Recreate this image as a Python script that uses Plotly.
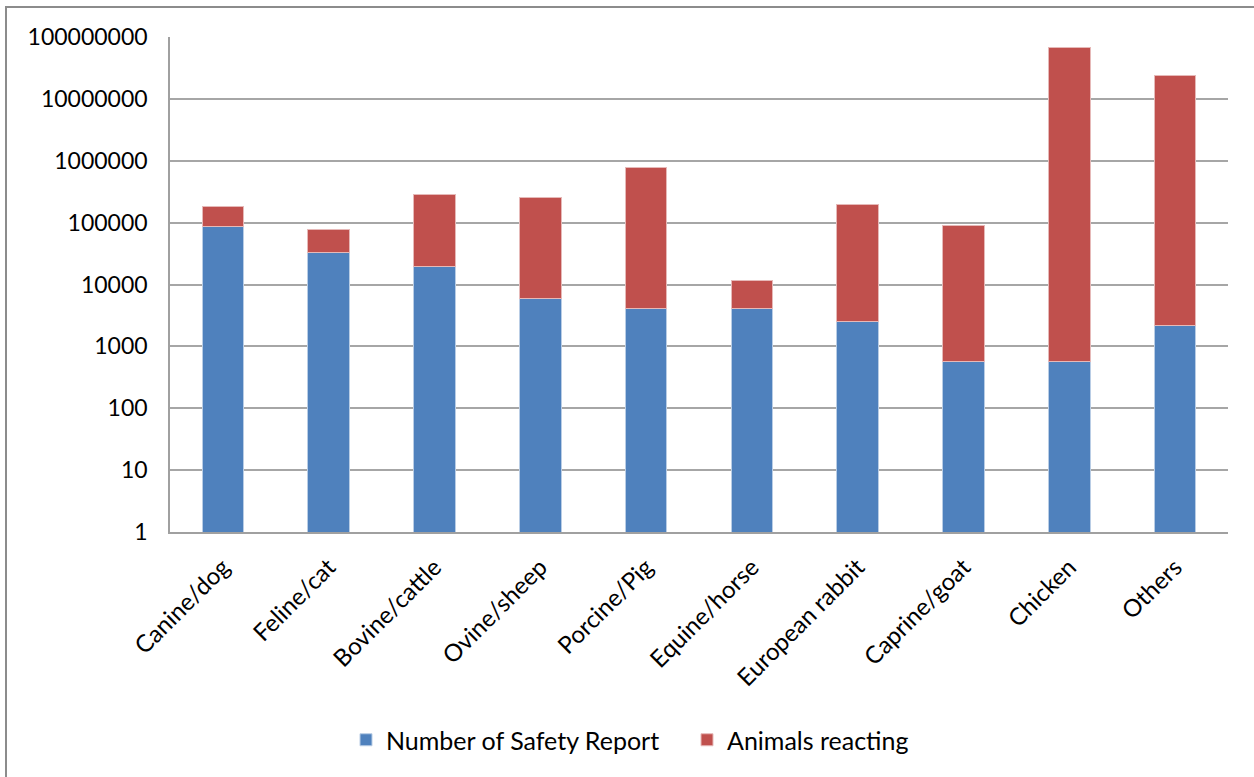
import plotly.graph_objects as go

categories = ["Canine/dog", "Feline/cat", "Bovine/cattle", "Ovine/sheep", "Porcine/Pig",
              "Equine/horse", "European rabbit", "Caprine/goat", "Chicken", "Others"]
safety_reports = [85500, 33000, 19600, 5960, 4050, 4050, 2500, 572, 572, 2180]
animals_reacting = [97300, 44600, 266000, 249000, 776000, 7600, 191500, 89500, 68400000, 23900000]
y_tick_values = [1, 10, 100, 1000, 10000, 100000, 1000000, 10000000, 100000000]
y_tick_labels = ["1", "10", "100", "1000", "10000", "100000", "1000000", "10000000", "100000000"]

FONT = "Lato"
W, H = 1254, 777
L, R, T, B = 170, 26, 37, 245

fig = go.Figure()
fig.add_trace(go.Bar(x=categories, y=safety_reports, name="Number of Safety Report",
                     marker=dict(color="#4f81bd", line=dict(color="#b9cde5", width=1))))
fig.add_trace(go.Bar(x=categories, y=animals_reacting, name="Animals reacting",
                     marker=dict(color="#c0504d", line=dict(color="#e6b9b8", width=1))))

pw = W - L - R
ph = H - T - B
bottom_px = H - B  # pixel y of plot bottom


def px_x(x):
    return (x - L) / pw


def px_y(y):
    return (bottom_px - y) / ph


fig.add_shape(type="rect", xref="paper", yref="paper",
              x0=px_x(6), x1=px_x(W + 10), y0=px_y(H + 10), y1=px_y(7),
              line=dict(color="#8c8c8c", width=2), fillcolor="rgba(0,0,0,0)", layer="above")

fig.update_layout(
    width=W, height=H,
    barmode="stack",
    bargap=0.607,
    plot_bgcolor="white",
    paper_bgcolor="white",
    margin=dict(l=L, r=R, t=T, b=B, pad=0),
    font=dict(family=FONT, size=22, color="#000000"),
    showlegend=True,
    legend=dict(orientation="h", x=px_x(346), xanchor="left", y=px_y(740), yanchor="middle",
                font=dict(family=FONT, size=25, color="#000000"),
                traceorder="normal", itemwidth=30, entrywidth=296, entrywidthmode="pixels"),
    xaxis=dict(tickangle=-45, showline=True, linecolor="#a0a0a0", linewidth=1.5,
               ticks="", tickfont=dict(family=FONT, size=24), showgrid=False,
               ticklabelstandoff=10),
    yaxis=dict(type="log", range=[0, 8], tickvals=y_tick_values, ticktext=y_tick_labels,
               showgrid=True, gridcolor="#a6a6a6", gridwidth=1.5,
               showline=True, linecolor="#a0a0a0", linewidth=1.5,
               ticks="", ticklabelstandoff=16, tickfont=dict(family=FONT, size=23)),
)

fig.write_html("out.html")
